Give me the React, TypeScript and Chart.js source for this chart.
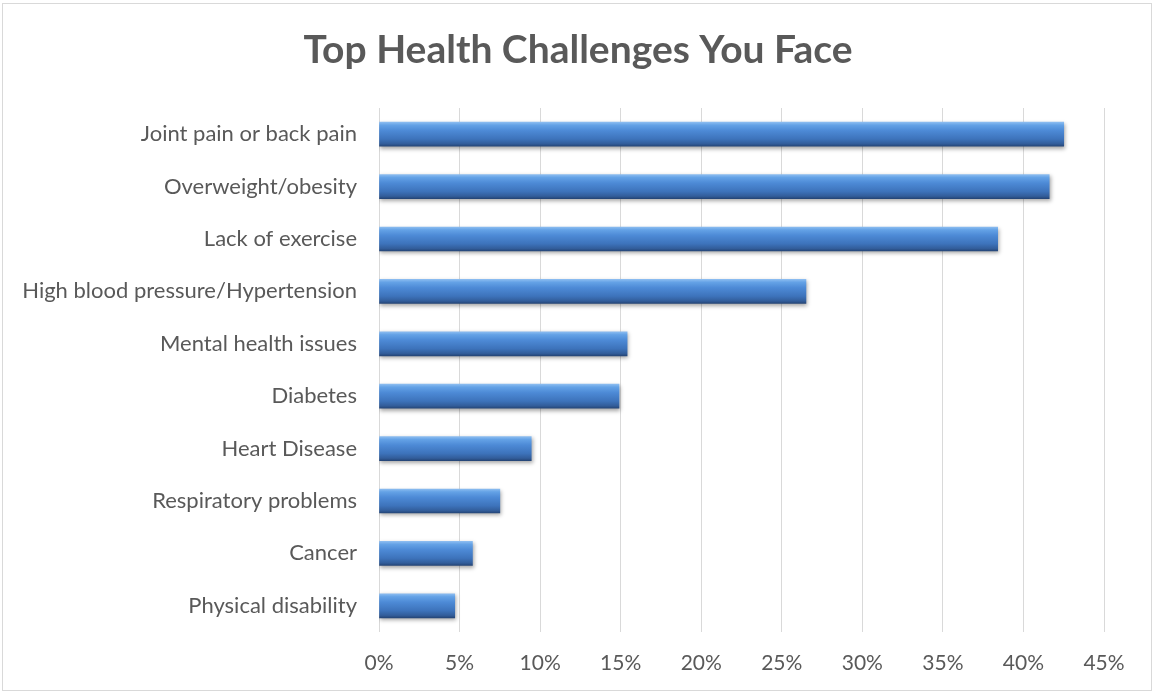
import React, { useEffect, useRef } from "react";
import { Chart, registerables } from "chart.js";

Chart.register(...registerables);

const TITLE = "Top Health Challenges You Face";
const categories = [
  "Joint pain or back pain",
  "Overweight/obesity",
  "Lack of exercise",
  "High blood pressure/Hypertension",
  "Mental health issues",
  "Diabetes",
  "Heart Disease",
  "Respiratory problems",
  "Cancer",
  "Physical disability",
];
const values = [42.5, 41.6, 38.4, 26.5, 15.4, 14.9, 9.45, 7.5, 5.8, 4.7];
const xMax = 45;
const xStep = 5;

const FONT = "Lato, 'Noto Sans', sans-serif";
const TEXT = "#595959";

const shadowPlugin = {
  id: "barShadow",
  beforeDatasetsDraw(chart: any) {
    const c = chart.ctx;
    c.save();
    c.shadowColor = "rgba(0,0,0,0.35)";
    c.shadowBlur = 4;
    c.shadowOffsetX = 1;
    c.shadowOffsetY = 2;
  },
  afterDatasetsDraw(chart: any) {
    chart.ctx.restore();
  },
};

const centeredTitle = {
  id: "centeredTitle",
  afterDraw(chart: any) {
    const c = chart.ctx;
    c.save();
    c.font = `bold 39px ${FONT}`;
    c.fillStyle = TEXT;
    c.textAlign = "center";
    c.textBaseline = "alphabetic";
    c.fillText(TITLE, chart.width / 2 + 1, 63);
    c.restore();
  },
};

export default function App() {
  const ref = useRef<HTMLCanvasElement>(null);
  useEffect(() => {
    if (!ref.current) return;
    const chart = new Chart(ref.current, {
      type: "bar",
      data: {
        labels: categories,
        datasets: [
          {
            data: values,
            barThickness: 24,
            borderWidth: 0,
            backgroundColor: (ctx: any) => {
              const ch = ctx.chart;
              const y = ch.scales && ch.scales.y;
              if (!y || ctx.dataIndex == null) return "#4a86d0";
              const c = y.getPixelForValue(ctx.dataIndex);
              if (!isFinite(c)) return "#4a86d0";
              const g = ch.ctx.createLinearGradient(0, c - 12, 0, c + 12);
              g.addColorStop(0, "#8bbcf0");
              g.addColorStop(0.12, "#64a2e6");
              g.addColorStop(0.35, "#4d8ad6");
              g.addColorStop(0.7, "#3d73bb");
              g.addColorStop(0.9, "#325d9a");
              g.addColorStop(1, "#254678");
              return g;
            },
          },
        ],
      },
      options: {
        indexAxis: "y",
        animation: false,
        responsive: true,
        maintainAspectRatio: false,
        layout: { padding: { left: 0, right: 50, top: 108, bottom: 2 } },
        plugins: {
          legend: { display: false },
          tooltip: { enabled: false },
          title: { display: false },
        },
        scales: {
          x: {
            min: 0,
            max: xMax,
            ticks: {
              stepSize: xStep,
              color: TEXT,
              font: { family: FONT, size: 21 },
              padding: 18.4,
              callback: (v: any) => v + "%",
            },
            grid: { color: "#d9d9d9", drawTicks: false, lineWidth: 1 },
            border: { display: false },
          },
          y: {
            ticks: {
              color: TEXT,
              font: { family: FONT, size: 22 },
              padding: 22,
            },
            grid: { display: false, drawTicks: false },
            border: { display: false },
            afterFit: (s: any) => {
              s.width = 379;
            },
          },
        },
      },
      plugins: [shadowPlugin, centeredTitle],
    });
    return () => chart.destroy();
  }, []);
  return (
    <div style={{ position: "fixed", left: 0, top: 0, width: 1154, height: 696, background: "#fff" }}>
      <div
        style={{
          position: "absolute",
          left: 2,
          top: 3,
          width: 1150,
          height: 688,
          border: "1px solid #d9d9d9",
          boxSizing: "border-box",
        }}
      />
      <div style={{ position: "absolute", left: 0, top: 0, width: 1154, height: 696 }}>
        <canvas ref={ref} role="img" aria-label={TITLE} />
      </div>
    </div>
  );
}
